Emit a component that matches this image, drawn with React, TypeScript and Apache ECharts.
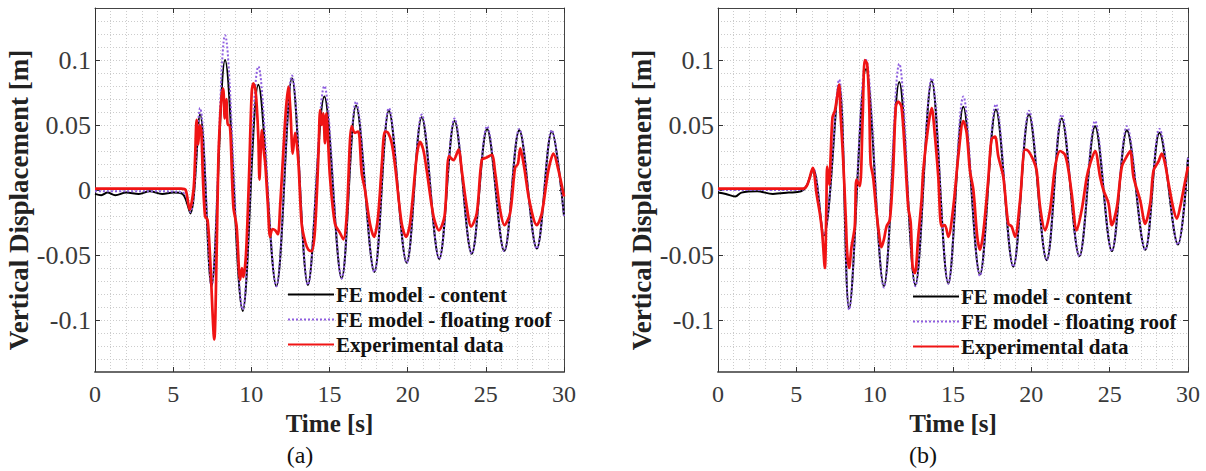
import React, { useEffect, useRef } from 'react';
import * as echarts from 'echarts';

const timeTicks = [0, 5, 10, 15, 20, 25, 30];
const dispTicks = [-0.1, -0.05, 0, 0.05, 0.1];
const seriesNames = ['FE model - content', 'FE model - floating roof', 'Experimental data'];
const panelLabels = ['(a)', '(b)'];
const xTitle = 'Time [s]';
const yTitle = 'Vertical Displacement [m]';

// Panel (a)
const aContent: number[][] = [
  [0, -0.003], [0.4, -0.004], [0.8, -0.002], [1.3, -0.004], [2, -0.002], [2.8, -0.003], [3.5, -0.001],
  [4.3, -0.003], [5, -0.002], [5.6, -0.003], [6.1, -0.018], [6.72, 0.058], [7.45, -0.074], [8.32, 0.1],
  [9.45, -0.093], [10.45, 0.081], [11.6, -0.074], [12.6, 0.086], [13.62, -0.073], [14.67, 0.072],
  [15.78, -0.068], [16.7, 0.065], [17.87, -0.063], [18.8, 0.061], [19.94, -0.056], [20.9, 0.056],
  [22.02, -0.053], [23.0, 0.053], [24.1, -0.049], [25.08, 0.047], [26.18, -0.047], [27.14, 0.046],
  [28.26, -0.045], [29.22, 0.045], [30, -0.02],
];
const aRoof: number[][] = [
  [0, -0.001], [2, -0.001], [4, -0.001], [5.6, -0.002], [6.1, -0.017], [6.72, 0.063], [7.45, -0.074],
  [8.32, 0.119], [9.45, -0.092], [10.45, 0.095], [11.6, -0.074], [12.6, 0.088], [13.62, -0.073],
  [14.67, 0.08], [15.78, -0.068], [16.7, 0.068], [17.87, -0.063], [18.8, 0.063], [19.94, -0.056],
  [20.9, 0.058], [22.02, -0.053], [23.0, 0.055], [24.1, -0.049], [25.08, 0.049], [26.18, -0.047],
  [27.14, 0.047], [28.26, -0.045], [29.22, 0.046], [30, -0.02],
];
const aExp: number[][] = [
  [0, 0.001], [5.5, 0.001], [5.8, 0.0], [6.05, -0.015], [6.3, 0.0], [6.4, 0.024], [6.5, 0.054], [6.6, 0.035],
  [6.7, 0.05], [6.8, 0.045], [6.9, 0.01], [7.04, -0.02], [7.2, -0.023], [7.35, -0.049], [7.63, -0.115],
  [7.78, -0.049], [7.89, 0.023], [8.0, 0.055], [8.1, 0.072], [8.2, 0.078], [8.3, 0.055], [8.4, 0.07],
  [8.5, 0.05], [8.6, 0.05], [8.85, -0.013], [9.06, -0.028], [9.28, -0.069], [9.4, -0.06], [9.49, -0.067],
  [9.66, -0.049], [9.85, 0.01], [10.02, 0.074], [10.13, 0.082], [10.25, 0.078], [10.34, 0.066],
  [10.45, 0.04], [10.52, 0.008], [10.6, 0.03], [10.68, 0.046], [10.8, 0.03], [10.89, 0.02], [11.05, -0.01],
  [11.2, -0.036], [11.35, -0.03], [11.52, -0.031], [11.7, -0.034], [11.84, -0.013], [12.0, 0.02],
  [12.2, 0.06], [12.37, 0.0795], [12.5, 0.061], [12.65, 0.028], [12.8, 0.044], [13.0, 0.023],
  [13.22, -0.026], [13.45, -0.04], [13.65, -0.046], [13.86, -0.047], [14.07, -0.031], [14.29, 0.026],
  [14.4, 0.0615], [14.5, 0.05], [14.6, 0.059], [14.71, 0.036], [14.8, 0.059], [14.9, 0.04], [15.03, 0.01],
  [15.35, -0.026], [15.67, -0.033], [15.89, -0.038], [16.1, -0.02], [16.42, 0.049], [16.63, 0.044],
  [16.84, 0.045], [17.06, 0.013], [17.27, 0.0], [17.59, -0.026], [17.85, -0.036], [18.1, -0.021],
  [18.35, 0.02], [18.55, 0.045], [18.75, 0.044], [18.98, 0.036], [19.2, 0.018], [19.62, -0.026],
  [19.9, -0.036], [20.15, -0.026], [20.58, 0.026], [20.79, 0.037], [21.0, 0.031], [21.22, 0.015],
  [21.65, -0.02], [22.0, -0.031], [22.36, -0.02], [22.65, 0.026], [22.93, 0.023], [23.25, 0.031],
  [23.46, 0.015], [23.78, -0.013], [24.06, -0.028], [24.42, -0.018], [24.74, 0.023], [25.06, 0.025],
  [25.38, 0.027], [25.6, 0.013], [25.91, -0.015], [26.19, -0.027], [26.55, -0.018], [26.87, 0.017],
  [27.05, 0.02], [27.2, 0.032], [27.46, 0.017], [27.78, -0.008], [28.26, -0.027], [28.58, -0.018],
  [29.0, 0.015], [29.33, 0.028], [29.65, 0.015], [30, -0.005],
];

// Panel (b)
const bContent: number[][] = [
  [0, -0.002], [0.5, -0.003], [1.1, -0.005], [1.5, -0.002], [2.5, -0.001], [3.5, -0.003], [4.5, -0.002],
  [5.3, -0.001], [5.65, 0.003], [6.07, 0.016], [6.75, -0.035], [7.73, 0.081], [8.37, -0.091],
  [9.45, 0.093], [10.59, -0.074], [11.57, 0.083], [12.6, -0.073], [13.64, 0.084], [14.7, -0.072],
  [15.66, 0.064], [16.72, -0.065], [17.74, 0.062], [18.85, -0.059], [19.85, 0.058], [20.98, -0.054],
  [21.94, 0.055], [23.07, -0.051], [24.07, 0.049], [25.14, -0.047], [26.1, 0.046], [27.27, -0.046],
  [28.18, 0.044], [29.36, -0.042], [30, 0.025],
];
const bRoof: number[][] = [
  [0, 0], [5.3, 0], [5.65, 0.003], [6.07, 0.017], [6.75, -0.035], [7.73, 0.085], [8.37, -0.092],
  [9.45, 0.1], [10.59, -0.075], [11.57, 0.097], [12.6, -0.074], [13.64, 0.086], [14.7, -0.072],
  [15.66, 0.072], [16.72, -0.066], [17.74, 0.066], [18.85, -0.059], [19.85, 0.061], [20.98, -0.054],
  [21.94, 0.058], [23.07, -0.051], [24.07, 0.053], [25.14, -0.047], [26.1, 0.049], [27.27, -0.046],
  [28.18, 0.047], [29.36, -0.042], [30, 0.025],
];
const bExp: number[][] = [
  [0, 0.001], [5.4, 0.001], [5.7, 0.004], [6.05, 0.017], [6.29, -0.003], [6.5, -0.018], [6.65, -0.033],
  [6.82, -0.06], [6.92, -0.01], [6.97, 0.018], [7.1, 0.004], [7.19, 0.026], [7.31, 0.056], [7.46, 0.061],
  [7.61, 0.072], [7.73, 0.081], [7.82, 0.059], [7.99, 0.023], [8.16, -0.023], [8.25, -0.049],
  [8.37, -0.06], [8.52, -0.044], [8.73, -0.028], [8.84, 0.008], [9.05, 0.003], [9.23, 0.054],
  [9.37, 0.1], [9.52, 0.097], [9.65, 0.066], [9.74, 0.021], [9.9, 0.01], [10.08, -0.013], [10.22, -0.028],
  [10.44, -0.044], [10.59, -0.038], [10.76, -0.028], [10.97, -0.023], [11.18, 0.015], [11.35, 0.064],
  [11.5, 0.068], [11.71, 0.064], [11.93, 0.028], [12.14, -0.013], [12.3, -0.025], [12.42, -0.059],
  [12.57, -0.064], [12.78, -0.036], [12.99, -0.008], [13.1, 0.015], [13.42, 0.049], [13.64, 0.063],
  [13.85, 0.041], [14.06, 0.01], [14.27, -0.028], [14.48, -0.027], [14.7, -0.036], [15.02, -0.013],
  [15.34, 0.026], [15.66, 0.053], [15.87, 0.044], [16.08, 0.015], [16.3, 0], [16.55, -0.036],
  [16.72, -0.046], [16.93, -0.033], [17.25, 0.008], [17.46, 0.039], [17.68, 0.041], [17.89, 0.026],
  [18.21, 0.01], [18.53, -0.026], [18.74, -0.028], [18.96, -0.036], [19.28, -0.008], [19.6, 0.031],
  [19.81, 0.03], [20.13, 0.023], [20.34, 0.015], [20.56, -0.013], [20.88, -0.031], [21.2, -0.015],
  [21.52, 0.018], [21.84, 0.03], [22.15, 0.027], [22.37, 0.015], [22.58, -0.003], [22.9, -0.031],
  [23.22, -0.015], [23.54, 0.01], [23.75, 0.02], [24.07, 0.03], [24.39, 0.01], [24.6, 0], [24.92, -0.01],
  [25.14, -0.027], [25.46, -0.013], [25.78, 0.018], [26.1, 0.026], [26.31, 0.03], [26.52, 0.01],
  [26.95, -0.008], [27.27, -0.026], [27.59, -0.01], [27.8, 0.015], [28.12, 0.022], [28.33, 0.028],
  [28.54, 0.02], [28.76, 0.005], [29.08, -0.015], [29.29, -0.022], [29.5, -0.013], [29.71, 0], [30, 0.018],
];

const panels = [
  { content: aContent, roof: aRoof, exp: aExp },
  { content: bContent, roof: bRoof, exp: bExp },
];

const SERIF = 'Liberation Serif';
const lineColors = ['#000000', '#8f5fe0', '#f01414'];

const tickLabel = (list: number[]) => (v: number) => {
  const hit = list.find((t) => Math.abs(t - v) < 1e-6);
  return hit === undefined ? '' : String(hit);
};

export default function App() {
  const ref = useRef<HTMLDivElement>(null);

  useEffect(() => {
    if (!ref.current) return;
    const chart = echarts.init(ref.current, null, { renderer: 'svg' });

    const grids = [
      { left: 95, top: 8, width: 469, height: 364 },
      { left: 718, top: 8, width: 470, height: 364 },
    ];
    const titleX = [329.5, 953];
    const yTitleX = [19, 642];
    const labelX = [300, 923];
    const legendLeft = [287, 912];
    const legendTop = [284, 286];

    const xAxis: any[] = [];
    const yAxis: any[] = [];
    const series: any[] = [];
    const graphic: any[] = [];
    const legend: any[] = [];

    grids.forEach((_, g) => {
      xAxis.push(
        {
          gridIndex: g, type: 'value', min: 0, max: 30, interval: 5, position: 'bottom',
          axisLine: { show: true, onZero: false, lineStyle: { color: '#6a6a6a', width: 2 } },
          axisTick: { show: true, inside: true, length: 5, lineStyle: { color: '#333' } },
          axisLabel: { fontSize: 24, fontFamily: SERIF, color: '#3a3a3a', margin: 10, formatter: tickLabel(timeTicks) },
          splitLine: { show: false },
        },
        {
          gridIndex: g, type: 'value', min: 0, max: 30, interval: 5, position: 'top',
          axisLine: { show: true, onZero: false, lineStyle: { color: '#444', width: 1 } },
          axisTick: { show: true, inside: true, length: 5, lineStyle: { color: '#333' } },
          axisLabel: { show: false },
          splitLine: { show: false },
        },
        {
          gridIndex: g, type: 'value', min: 0, max: 30, interval: 1,
          axisLine: { show: false, onZero: false }, axisTick: { show: false }, axisLabel: { show: false },
          splitLine: { show: true, lineStyle: { color: '#cccccc', width: 1, type: [1, 2] } },
        },
      );
      yAxis.push(
        {
          gridIndex: g, type: 'value', min: -0.14, max: 0.14, interval: 0.01, position: 'left',
          axisLine: { show: true, onZero: false, lineStyle: { color: '#333', width: 1 } },
          axisTick: { show: true, inside: true, length: 5, customValues: dispTicks, lineStyle: { color: '#333' } },
          axisLabel: { fontSize: 26, fontFamily: SERIF, color: '#3a3a3a', margin: 4, formatter: tickLabel(dispTicks) },
          splitLine: { show: false },
        },
        {
          gridIndex: g, type: 'value', min: -0.14, max: 0.14, position: 'right',
          axisLine: { show: true, onZero: false, lineStyle: { color: '#444', width: 1 } },
          axisTick: { show: true, inside: true, length: 5, customValues: dispTicks, lineStyle: { color: '#333' } },
          axisLabel: { show: false },
          splitLine: { show: false },
        },
        {
          gridIndex: g, type: 'value', min: -0.14, max: 0.14, interval: 0.01,
          axisLine: { show: false, onZero: false }, axisTick: { show: false }, axisLabel: { show: false },
          splitLine: { show: true, lineStyle: { color: '#cccccc', width: 1, type: [1, 2] } },
        },
      );

      const p = panels[g];
      series.push(
        {
          name: seriesNames[0], type: 'line', xAxisIndex: 3 * g, yAxisIndex: 3 * g, data: p.content,
          symbol: 'none', showSymbol: false, smooth: 0.35, z: 2,
          itemStyle: { color: lineColors[0] },
          lineStyle: { color: lineColors[0], width: 2 },
        },
        {
          name: seriesNames[1], type: 'line', xAxisIndex: 3 * g, yAxisIndex: 3 * g, data: p.roof,
          symbol: 'none', showSymbol: false, smooth: 0.35, z: 3,
          itemStyle: { color: lineColors[1] },
          lineStyle: { color: lineColors[1], width: 2, type: [2, 2] },
        },
        {
          name: seriesNames[2], type: 'line', xAxisIndex: 3 * g, yAxisIndex: 3 * g, data: p.exp,
          symbol: 'none', showSymbol: false, smooth: 0.3, z: 4,
          itemStyle: { color: lineColors[2] },
          lineStyle: { color: lineColors[2], width: 2.7 },
        },
      );

      legend.push({
        orient: 'vertical', left: legendLeft[g], top: legendTop[g], padding: 0,
        itemWidth: 46, itemHeight: 14, itemGap: 4, selectedMode: false,
        itemStyle: { opacity: 0, borderWidth: 0 },
        data: seriesNames,
        textStyle: { fontFamily: SERIF, fontWeight: 'bold', fontSize: 21, color: '#111', padding: [0, 0, 0, -3] },
      });

      graphic.push(
        {
          type: 'text', x: titleX[g], y: 423,
          style: { text: xTitle, font: `bold 25px ${SERIF}`, fill: '#222', textAlign: 'center', textVerticalAlign: 'middle', align: 'center', verticalAlign: 'middle' },
        },
        {
          type: 'text', x: yTitleX[g], y: 200, rotation: Math.PI / 2,
          style: { text: yTitle, font: `bold 27px ${SERIF}`, fill: '#222', textAlign: 'center', textVerticalAlign: 'middle', align: 'center', verticalAlign: 'middle' },
        },
        {
          type: 'text', x: labelX[g], y: 455,
          style: { text: panelLabels[g], font: `24px ${SERIF}`, fill: '#111', textAlign: 'center', textVerticalAlign: 'middle', align: 'center', verticalAlign: 'middle' },
        },
      );
    });

    chart.setOption({
      animation: false,
      backgroundColor: '#ffffff',
      textStyle: { fontFamily: SERIF },
      grid: grids,
      xAxis,
      yAxis,
      legend,
      series,
      graphic,
    });

    return () => chart.dispose();
  }, []);

  return (
    <div
      ref={ref}
      style={{ position: 'absolute', left: 0, top: 0, width: 1206, height: 471, background: '#fff' }}
    />
  );
}
